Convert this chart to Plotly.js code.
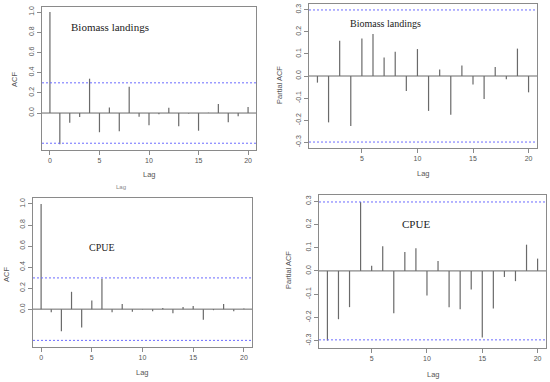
<!DOCTYPE html>
<html>
<head>
<meta charset="utf-8">
<script src="https://cdn.plot.ly/plotly-3.0.1.min.js"></script>
<style>html,body{margin:0;padding:0;background:#fff;}#chart{width:550px;height:382px;}</style>
</head>
<body>
<div id="chart"></div>
<script>
// Data
var acfLags = [0,1,2,3,4,5,6,7,8,9,10,11,12,13,14,15,16,17,18,19,20];
var pacfLags = [1,2,3,4,5,6,7,8,9,10,11,12,13,14,15,16,17,18,19,20];
var acfBiomass = [1.0,-0.31,-0.096,-0.04,0.34,-0.19,0.056,-0.18,0.26,-0.036,-0.12,-0.013,0.053,-0.13,-0.005,-0.175,0.003,0.09,-0.09,-0.033,0.06];
var pacfBiomass = [-0.03,-0.21,0.16,-0.226,0.17,0.19,0.084,0.11,-0.068,0.122,-0.158,0.029,-0.176,0.048,-0.039,-0.104,0.041,-0.015,0.124,-0.074];
var acfCpue = [1.0,-0.03,-0.21,0.165,-0.175,0.083,0.29,-0.03,0.05,-0.025,-0.004,-0.02,0.01,-0.04,0.02,0.03,-0.1,-0.01,0.05,-0.02,0.006];
var pacfCpue = [-0.30,-0.208,-0.156,0.297,0.022,0.106,-0.182,0.082,0.098,-0.106,0.043,-0.156,-0.165,-0.08,-0.287,-0.162,-0.026,-0.044,0.113,0.053];
var ciBiomass = 0.299;
var ciCpue = 0.297;
var acfTicks = [0,0.2,0.4,0.6,0.8,1.0];
var acfTickText = ["0.0","0.2","0.4","0.6","0.8","1.0"];
var pacfTicks = [-0.3,-0.2,-0.1,0,0.1,0.2,0.3];
var pacfTickText = ["-0.3","-0.2","-0.1","0.0","0.1","0.2","0.3"];
var acfXTicks = [0,5,10,15,20];
var pacfXTicks = [5,10,15,20];
var panelTitles = ["Biomass landings","Biomass landings","CPUE","CPUE"];

function stems(lags, vals, xa, ya) {
  var xs = [], ys = [];
  for (var i = 0; i < lags.length; i++) {
    xs.push(lags[i], lags[i], null);
    ys.push(0, vals[i], null);
  }
  return {x: xs, y: ys, xaxis: xa, yaxis: ya, mode: 'lines', type: 'scatter',
    line: {color: '#6a6a6a', width: 1.2}, hoverinfo: 'skip', showlegend: false};
}

var data = [
  stems(acfLags, acfBiomass, 'x', 'y'),
  stems(pacfLags, pacfBiomass, 'x2', 'y2'),
  stems(acfLags, acfCpue, 'x3', 'y3'),
  stems(pacfLags, pacfCpue, 'x4', 'y4')
];

var W = 550, H = 382;
function px(x) { return x / W; }
function py(y) { return 1 - y / H; }

var tickFont = {family: 'Liberation Sans, Arial, sans-serif', size: 7, color: '#555'};
function xax(dom, range, ticks, anchor) {
  return {domain: dom, range: range, anchor: anchor, tickvals: ticks, ticktext: ticks.map(String),
    showline: true, mirror: true, linecolor: '#8a8a8a', linewidth: 1, ticks: 'outside', ticklen: 4,
    tickcolor: '#8a8a8a', tickfont: tickFont, showgrid: false, zeroline: false, fixedrange: true};
}
function yax(dom, range, ticks, text, anchor) {
  return {domain: dom, range: range, anchor: anchor, tickvals: ticks, ticktext: text, tickangle: -90,
    showline: true, mirror: true, linecolor: '#8a8a8a', linewidth: 1, ticks: 'outside', ticklen: 4,
    tickcolor: '#8a8a8a', tickfont: tickFont, showgrid: false, zeroline: false, fixedrange: true};
}

var shapes = [];
function hline(xa, ya, yv, color, dash, width) {
  shapes.push({type: 'line', xref: xa + ' domain', yref: ya, x0: 0, x1: 1, y0: yv, y1: yv,
    line: {color: color, dash: dash, width: width}});
}
var ciColor = '#6b6bff';
[['x','y',ciBiomass],['x2','y2',ciBiomass],['x3','y3',ciCpue],['x4','y4',ciCpue]].forEach(function(p){
  hline(p[0], p[1], 0, '#6a6a6a', 'solid', 1);
  hline(p[0], p[1], p[2], ciColor, '2px,2px', 1);
  hline(p[0], p[1], -p[2], ciColor, '2px,2px', 1);
});

var labFont = {family: 'Liberation Sans, Arial, sans-serif', size: 7.5, color: '#555'};
var ttlFont = function(s){ return {family: 'Liberation Serif, Times New Roman, serif', size: s, color: '#222'}; };
function ann(x, y, text, font, angle) {
  return {xref: 'paper', yref: 'paper', x: px(x), y: py(y), text: text, showarrow: false,
    font: font, textangle: angle || 0, xanchor: 'center', yanchor: 'middle'};
}

var annotations = [
  ann(110, 27, panelTitles[0], ttlFont(11)),
  ann(385, 24, panelTitles[1], ttlFont(10)),
  ann(102, 247, panelTitles[2], ttlFont(10)),
  ann(416, 224, panelTitles[3], ttlFont(11)),
  ann(14, 80, 'ACF', labFont, -90),
  ann(279, 85, 'Partial ACF', labFont, -90),
  ann(6, 275, 'ACF', labFont, -90),
  ann(288, 270, 'Partial ACF', labFont, -90),
  ann(149, 174, 'Lag', labFont),
  ann(423, 173, 'Lag', labFont),
  ann(142, 372, 'Lag', labFont),
  ann(433, 374, 'Lag', labFont),
  ann(121, 187, 'Lag', {family: 'Liberation Sans, Arial, sans-serif', size: 6, color: '#888'})
];

var layout = {
  width: W, height: H, margin: {l: 0, r: 0, t: 0, b: 0},
  paper_bgcolor: '#fff', plot_bgcolor: '#fff', showlegend: false,
  xaxis: xax([px(42), px(256)], [-0.8, 20.8], acfXTicks, 'y'),
  yaxis: yax([py(150), py(7)], [-0.366, 1.05], acfTicks, acfTickText, 'x'),
  xaxis2: xax([px(309), px(537)], [0.24, 20.76], pacfXTicks, 'y2'),
  yaxis2: yax([py(148), py(4)], [-0.326, 0.326], pacfTicks, pacfTickText, 'x2'),
  xaxis3: xax([px(33), px(252)], [-0.8, 20.8], acfXTicks, 'y3'),
  yaxis3: yax([py(347), py(198)], [-0.36, 1.057], acfTicks, acfTickText, 'x3'),
  xaxis4: xax([px(319), px(546)], [0.24, 20.76], pacfXTicks, 'y4'),
  yaxis4: yax([py(348), py(195)], [-0.332, 0.327], pacfTicks, pacfTickText, 'x4'),
  shapes: shapes,
  annotations: annotations
};

Plotly.newPlot('chart', data, layout, {displayModeBar: false, staticPlot: true});
</script>
</body>
</html>
